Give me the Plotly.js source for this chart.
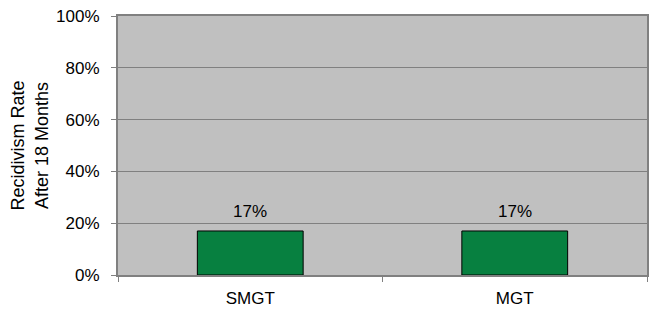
<!DOCTYPE html>
<html>
<head>
<meta charset="utf-8">
<script src="https://cdn.plot.ly/plotly-3.0.1.min.js"></script>
<style>html,body{margin:0;padding:0;background:#fff;}#chart{width:649px;height:311px;}</style>
</head>
<body>
<div id="chart"></div>
<script>
var categories = ["SMGT", "MGT"];
var rates = [0.17, 0.17];
var rateLabels = ["17%", "17%"];
var yTickVals = [0, 0.2, 0.4, 0.6, 0.8, 1.0];
var yTickText = ["0%", "20%", "40%", "60%", "80%", "100%"];

var fam = "Liberation Sans, Arial, sans-serif";
var tickFontY = {family: fam, size: 17, color: "#000"};
var tickFontX = {family: fam, size: 17, color: "#000"};
var titleFont = {family: fam, size: 18, color: "#000"};
var labelFont = {family: fam, size: 17, color: "#000"};

var trace = {
  type: "bar",
  x: categories,
  y: rates,
  width: 0.4,
  marker: {color: "#078040", line: {color: "#000", width: 1}},
  hoverinfo: "none"
};

var annotations = categories.map(function (c, i) {
  return {
    x: c, y: rates[i], xref: "x", yref: "y",
    text: rateLabels[i], showarrow: false,
    yanchor: "bottom", yshift: 8,
    font: labelFont
  };
});

var layout = {
  width: 649,
  height: 311,
  margin: {l: 118, r: 2, t: 16, b: 36},
  paper_bgcolor: "#fff",
  plot_bgcolor: "#c0c0c0",
  font: labelFont,
  showlegend: false,
  annotations: annotations,
  xaxis: {
    type: "category",
    showline: true, linecolor: "#808080", linewidth: 2, mirror: true,
    ticks: "outside", tickson: "boundaries", ticklen: 5, tickcolor: "#808080",
    showgrid: false,
    ticklabelstandoff: 7,
    tickfont: tickFontX
  },
  yaxis: {
    range: [0, 1],
    tickvals: yTickVals,
    ticktext: yTickText,
    showline: true, linecolor: "#808080", linewidth: 2, mirror: true,
    ticks: "outside", ticklen: 5, tickcolor: "#808080",
    showgrid: true, gridcolor: "#808080", gridwidth: 1,
    zeroline: false,
    ticklabelstandoff: 8,
    tickfont: tickFontY,
    title: {text: "Recidivism Rate<br>After 18 Months", font: titleFont, standoff: 3}
  }
};

Plotly.newPlot("chart", [trace], layout, {displayModeBar: false, staticPlot: true});
</script>
</body>
</html>
